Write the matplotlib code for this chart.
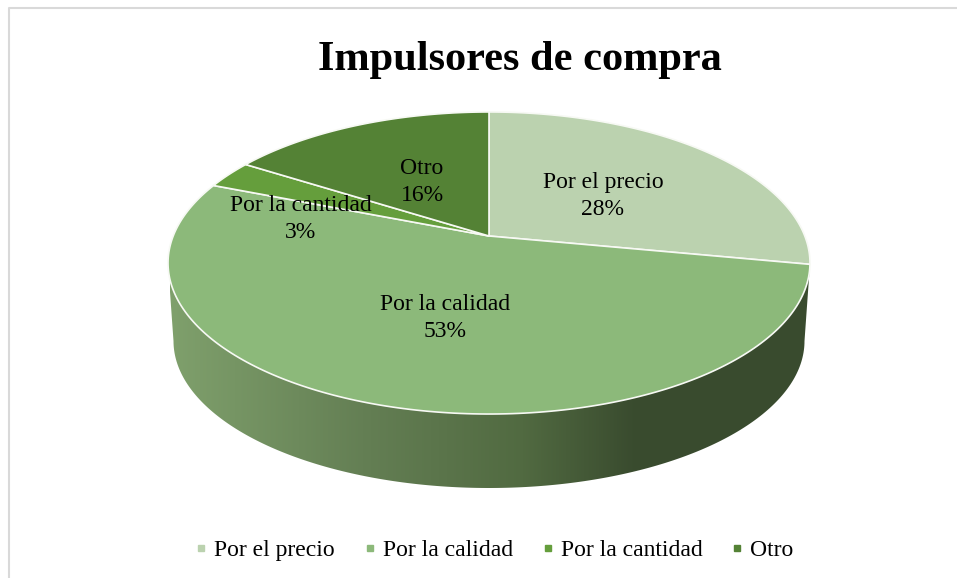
import numpy as np
import matplotlib
matplotlib.use('agg')
import matplotlib.pyplot as plt
from matplotlib.colors import LinearSegmentedColormap
from matplotlib.lines import Line2D
from matplotlib.patches import Polygon

categories = ['Por el precio', 'Por la calidad', 'Por la cantidad', 'Otro']
shares = [28, 53, 3, 16]

colors = ['#BBD2AF', '#8CB97A', '#659E3C', '#548235']
label_xy = [(603, 196), (445, 318), (301, 219), (422, 182)]

plt.rcParams['font.family'] = ['Liberation Serif', 'DejaVu Serif']

# pie geometry in pixels, the top is a disc seen in perspective
cx, cy = 489, 236
k = 0.1788
a = 146.2
r = 315.8


def project(theta):
    u, v = np.sin(theta), np.cos(theta)
    w = 1 + k * v
    return cx + r * u / w, cy - a * v / w


fig = plt.figure(figsize=(9.57, 5.78), dpi=100)
ax = fig.add_axes([0, 0, 1, 1])
ax.set_xlim(0, 957)
ax.set_ylim(578, 0)
ax.axis('off')

# chart border, only top and left are inside the picture
ax.plot([9, 9, 957], [578, 8, 8], color='#D9D9D9', lw=1.5)

# side of the pie with its gradient
t = np.linspace(0, np.pi, 200)
low_x = 489 - 315.5 * np.cos(t)
low_y = 341 + 147 * np.sin(t)
t2 = np.linspace(np.pi / 2 + 0.19, 2 * np.pi - np.pi / 2 - 0.19, 200)
top_x, top_y = project(t2)
side = np.vstack([np.column_stack([low_x, low_y]), np.column_stack([top_x, top_y])])
side_patch = Polygon(side, closed=True, fc='none', ec='none')
ax.add_patch(side_patch)
side_cmap = LinearSegmentedColormap.from_list('side', [
    (0.0, '#7FA06C'), (0.3, '#647F54'), (0.55, '#516A41'),
    (0.72, '#3A4C2F'), (1.0, '#394B2E')])
img = ax.imshow(np.linspace(0, 1, 256).reshape(1, -1), cmap=side_cmap,
                extent=[170, 812, 500, 260], aspect='auto', zorder=1)
img.set_clip_path(side_patch)
ax.set_xlim(0, 957)
ax.set_ylim(578, 0)

# slices from the shares, clockwise from the top
fractions = np.cumsum([0] + shares) / sum(shares)
for i in range(len(shares)):
    th = np.linspace(fractions[i], fractions[i + 1], 200) * 2 * np.pi
    px, py = project(th)
    pts = np.vstack([[cx, cy], np.column_stack([px, py])])
    ax.add_patch(Polygon(pts, closed=True, fc=colors[i], ec='#F7F9F4', lw=1.2,
                         zorder=2, joinstyle='round'))

for name, val, (x, y) in zip(categories, shares, label_xy):
    ax.text(x, y, f'{name}\n{val}%', ha='center', va='center', fontsize=17,
            color='black', linespacing=1.32, zorder=3)

ax.text(520, 60, 'Impulsores de compra', ha='center', va='center',
        fontsize=30.5, fontweight='bold', color='black', zorder=3)

handles = [Line2D([], [], ls='none', marker='s', ms=5, color=c) for c in colors]
ax.legend(handles, categories, loc='center', bbox_to_anchor=(492 / 957, 1 - 550 / 578),
          ncol=4, frameon=False, fontsize=17, handletextpad=0.1,
          columnspacing=1.03, handlelength=0.9, borderpad=0)

fig.savefig('out.png', dpi=100)
